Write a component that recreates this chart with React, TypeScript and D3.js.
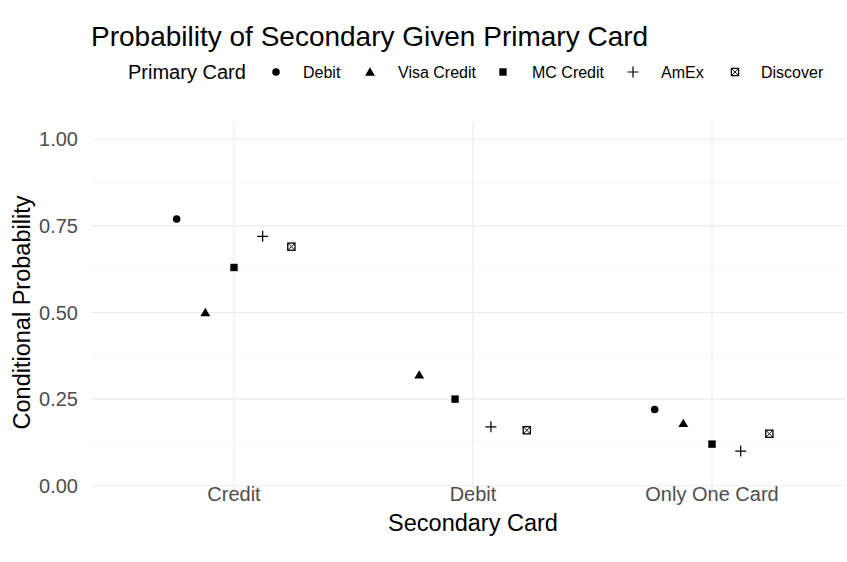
import React from "react";
import * as d3 from "d3";

const categories = ["Credit", "Debit", "Only One Card"];
const primaries = ["Debit", "Visa Credit", "MC Credit", "AmEx", "Discover"];
const debitVals: (number | null)[] = [0.77, null, 0.22];
const visaVals: (number | null)[] = [0.5, 0.32, 0.18];
const mcVals: (number | null)[] = [0.63, 0.25, 0.12];
const amexVals: (number | null)[] = [0.72, 0.17, 0.1];
const discoverVals: (number | null)[] = [0.69, 0.16, 0.15];
const yTicks = [0, 0.25, 0.5, 0.75, 1.0];
const yMinor = [0.125, 0.375, 0.625, 0.875];

const seriesVals = [debitVals, visaVals, mcVals, amexVals, discoverVals];

const W = 847;
const H = 562;
const panelLeft = 91;
const panelRight = 846;
const panelTop = 122;
const panelBottom = 503;
const font = "'Liberation Sans', Arial, Helvetica, sans-serif";

function Shape({ kind, x, y }: { kind: number; x: number; y: number }) {
  if (kind === 0) return <circle cx={x} cy={y} r={3.8} fill="#000" />;
  if (kind === 1) {
    const s = 4.7;
    return (
      <path
        d={`M${x},${y - s}L${x + s * 1.05},${y + s * 0.78}L${x - s * 1.05},${y + s * 0.78}Z`}
        fill="#000"
      />
    );
  }
  if (kind === 2) {
    const s = 3.7;
    return <rect x={x - s} y={y - s} width={2 * s} height={2 * s} fill="#000" />;
  }
  if (kind === 3) {
    const s = 5.5;
    return (
      <path
        d={`M${x - s},${y}H${x + s}M${x},${y - s}V${y + s}`}
        stroke="#000"
        strokeWidth={1.2}
        fill="none"
      />
    );
  }
  const s = 3.6;
  return (
    <g stroke="#000" fill="none" strokeWidth={1.3}>
      <rect x={x - s} y={y - s} width={2 * s} height={2 * s} />
      <path d={`M${x - s},${y - s}L${x + s},${y + s}M${x + s},${y - s}L${x - s},${y + s}`} strokeWidth={0.9} />
    </g>
  );
}

export default function App() {
  const x = d3
    .scalePoint<string>()
    .domain(categories)
    .range([90.6, 855.4])
    .padding(0.6);
  const step = x.step();
  const y = d3.scaleLinear().domain([-0.05, 1.05]).range([panelBottom, panelTop]);

  const points: { kind: number; px: number; py: number }[] = [];
  categories.forEach((cat, ci) => {
    const present = seriesVals
      .map((vals, si) => ({ si, v: vals[ci] }))
      .filter((d) => d.v !== null);
    const n = present.length;
    const w = 0.6 / n;
    present.forEach((d, i) => {
      const off = (i - (n - 1) / 2) * w;
      points.push({ kind: d.si, px: (x(cat) as number) + off * step, py: y(d.v as number) });
    });
  });

  const legendItems = [
    { label: primaries[0], sx: 276, tx: 303 },
    { label: primaries[1], sx: 370, tx: 398 },
    { label: primaries[2], sx: 503, tx: 532 },
    { label: primaries[3], sx: 633, tx: 661 },
    { label: primaries[4], sx: 735, tx: 761 },
  ];
  const legendY = 72;

  return (
    <svg width={W} height={H} style={{ display: "block", position: "absolute", left: 0, top: 0 }} fontFamily={font}>
      <rect width={W} height={H} fill="#fff" />
      <text x={91} y={46} fontSize={28} fill="#000">
        Probability of Secondary Given Primary Card
      </text>
      <text x={128} y={legendY + 7} fontSize={20} fill="#000">
        Primary Card
      </text>
      {legendItems.map((d, i) => (
        <g key={d.label}>
          <Shape kind={i} x={d.sx} y={legendY} />
          <text x={d.tx} y={legendY + 5.7} fontSize={16} fill="#000">
            {d.label}
          </text>
        </g>
      ))}
      {yMinor.map((t) => (
        <line key={"m" + t} x1={panelLeft} x2={panelRight} y1={y(t)} y2={y(t)} stroke="#EBEBEB" strokeWidth={0.55} />
      ))}
      {yTicks.map((t) => (
        <line key={"g" + t} x1={panelLeft} x2={panelRight} y1={y(t)} y2={y(t)} stroke="#EBEBEB" strokeWidth={1.1} />
      ))}
      {categories.map((c) => (
        <line key={"v" + c} x1={x(c)} x2={x(c)} y1={panelTop} y2={panelBottom} stroke="#EBEBEB" strokeWidth={1.1} />
      ))}
      {yTicks.map((t) => (
        <text key={"t" + t} x={78} y={y(t) + 7} fontSize={20} fill="#4D4D4D" textAnchor="end">
          {t.toFixed(2)}
        </text>
      ))}
      {categories.map((c) => (
        <text key={"xt" + c} x={x(c)} y={501} fontSize={20} fill="#4D4D4D" textAnchor="middle">
          {c}
        </text>
      ))}
      <text x={473} y={531} fontSize={23.5} fill="#000" textAnchor="middle">
        Secondary Card
      </text>
      <text
        transform={`translate(30,${(panelTop + panelBottom) / 2}) rotate(-90)`}
        fontSize={23.5}
        fill="#000"
        textAnchor="middle"
      >
        Conditional Probability
      </text>
      {points.map((p, i) => (
        <Shape key={i} kind={p.kind} x={p.px} y={p.py} />
      ))}
    </svg>
  );
}
